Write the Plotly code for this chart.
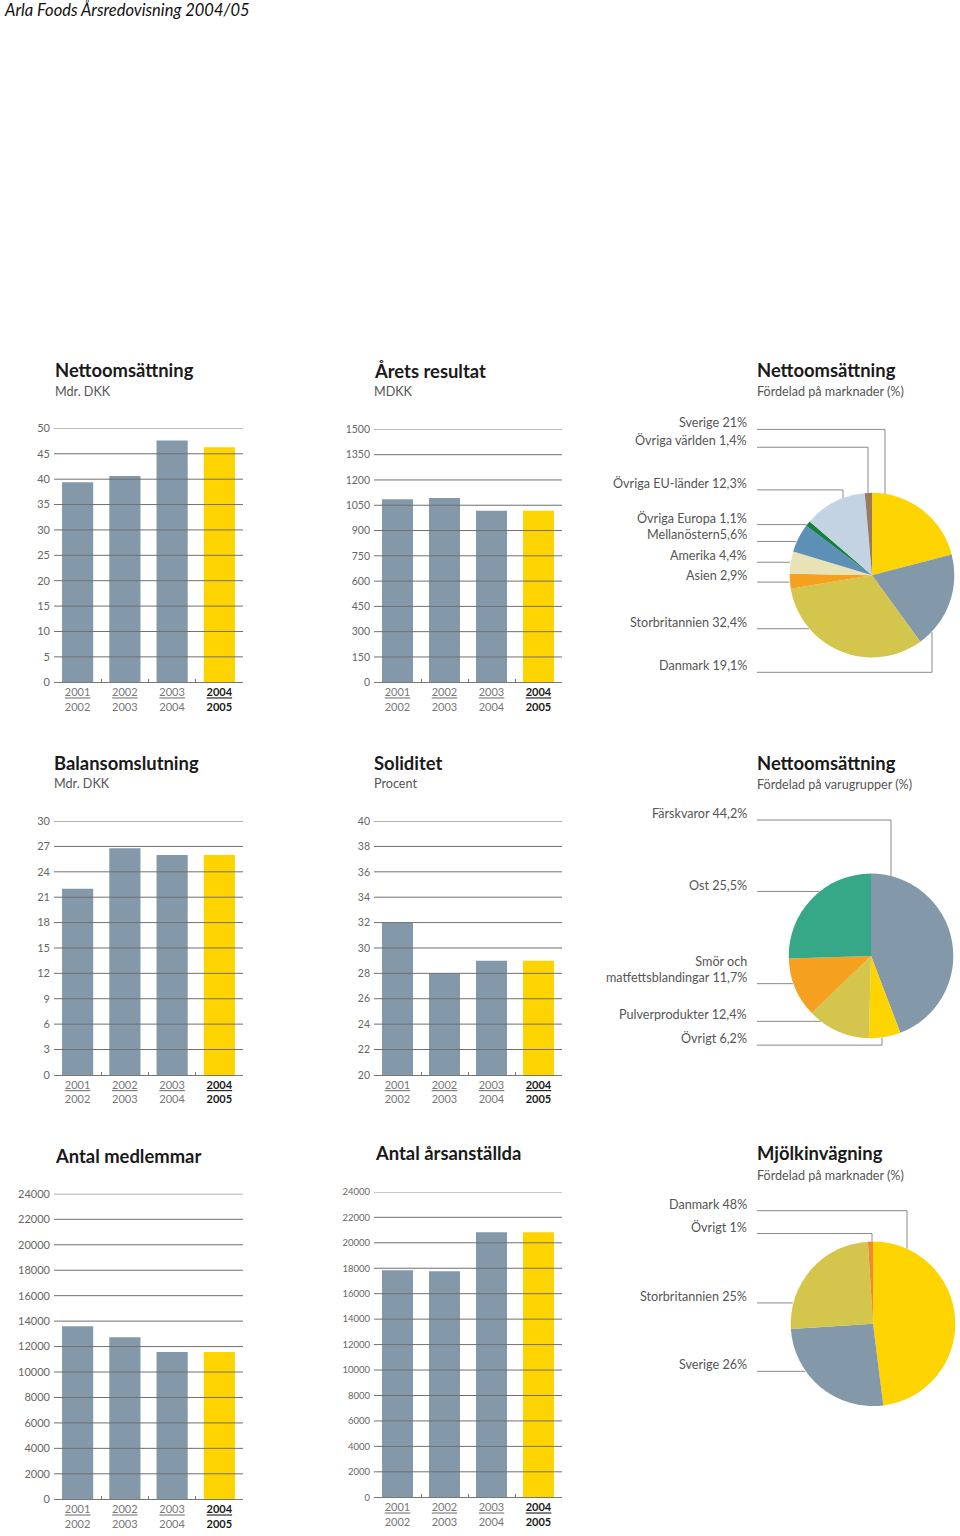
import math
import plotly.graph_objects as go

W, H = 960, 1536
FONT = "Lato"

# ---------------- data ----------------
years = ["2001/2002", "2002/2003", "2003/2004", "2004/2005"]
year_ticktext = [
    "<u>2001</u><br>2002",
    "<u>2002</u><br>2003",
    "<u>2003</u><br>2004",
    "<span style='color:#1a1a1a'><b><u>2004</u><br>2005</b></span>",
]

nettoomsattning = [39.4, 40.6, 47.6, 46.3]          # Mdr. DKK
arets_resultat = [1085, 1093, 1017, 1017]           # MDKK
balansomslutning = [22.0, 26.8, 26.0, 26.0]         # Mdr. DKK
soliditet = [32.0, 28.0, 29.0, 29.0]                # Procent
antal_medlemmar = [13600, 12740, 11570, 11570]
antal_arsanstallda = [17840, 17760, 20830, 20830]

ticks_netto = [0, 5, 10, 15, 20, 25, 30, 35, 40, 45, 50]
ticks_resultat = [0, 150, 300, 450, 600, 750, 900, 1050, 1200, 1350, 1500]
ticks_balans = [0, 3, 6, 9, 12, 15, 18, 21, 24, 27, 30]
ticks_soliditet = [20, 22, 24, 26, 28, 30, 32, 34, 36, 38, 40]
ticks_antal = [0, 2000, 4000, 6000, 8000, 10000, 12000, 14000, 16000, 18000, 20000, 22000, 24000]

market_labels = ["Sverige 21%", "Danmark 19,1%", "Storbritannien 32,4%", "Asien 2,9%",
                 "Amerika 4,4%", "Mellanöstern5,6%", "Övriga Europa 1,1%",
                 "Övriga EU-länder 12,3%", "Övriga världen 1,4%"]
market_values = [21.0, 19.1, 32.4, 2.9, 4.4, 5.6, 1.1, 12.3, 1.4]

product_labels = ["Färskvaror 44,2%", "Övrigt 6,2%", "Pulverprodukter 12,4%",
                  "Smör och<br>matfettsblandingar 11,7%", "Ost 25,5%"]
product_values = [44.2, 6.2, 12.4, 11.7, 25.5]

milk_labels = ["Danmark 48%", "Sverige 26%", "Storbritannien 25%", "Övrigt 1%"]
milk_values = [48, 26, 25, 1]

# ---------------- styles ----------------
GRAY_BAR = "#8399a9"
YELLOW = "#fdd400"
bar_colors = [GRAY_BAR, GRAY_BAR, GRAY_BAR, YELLOW]
market_colors = ["#fdd400", "#8399a9", "#d4c64c", "#f5a01e", "#e9e2b6",
                 "#5d90b6", "#16803f", "#c4d3e3", "#9a7a5e"]
product_colors = ["#8399a9", "#fdd400", "#d4c64c", "#f5a01e", "#36a887"]
milk_colors = ["#fdd400", "#8399a9", "#d4c64c", "#ef8a35"]
GRID = "#707070"
LEADER = "#8a8a8a"
LABEL_SIZE = 12.6
TEXT_SHIFT = 3  # px upward correction for text annotations


def fx(px):
    return px / W


def fy(py):
    return 1 - py / H


fig = go.Figure()
layout = dict(
    width=W, height=H, margin=dict(l=0, r=0, t=0, b=0, pad=0),
    paper_bgcolor="white", plot_bgcolor="white", showlegend=False,
    font=dict(family=FONT, color="#555"),
)
shapes = []
annotations = []

# bar panels: (values, ticks, x0, x1, ytop, ybottom, tickfont size)
bar_panels = [
    (nettoomsattning, ticks_netto, 54, 243, 425, 681, 11),
    (arets_resultat, ticks_resultat, 374, 562, 426, 681, 10.5),
    (balansomslutning, ticks_balans, 54, 243, 821, 1077, 11),
    (soliditet, ticks_soliditet, 374, 562, 821, 1077, 10.5),
    (antal_medlemmar, ticks_antal, 54, 243, 1197, 1505, 11),
    (antal_arsanstallda, ticks_antal, 374, 562, 1195, 1503, 9.5),
]

for i, (vals, ticks, x0, x1, yt, yb, tfs) in enumerate(bar_panels, start=1):
    xa = "x" if i == 1 else f"x{i}"
    ya = "y" if i == 1 else f"y{i}"
    fig.add_trace(go.Bar(x=years, y=vals, marker=dict(color=bar_colors, line=dict(width=0)),
                         width=0.66, xaxis=xa, yaxis=ya, hoverinfo="x+y"))
    layout["xaxis" if i == 1 else f"xaxis{i}"] = dict(
        domain=[fx(x0), fx(x1)], anchor=ya, type="category",
        range=[-0.5, 3.5], tickvals=years, ticktext=year_ticktext,
        tickson="boundaries", ticks="inside", ticklen=3, tickcolor="#777",
        showline=True, linecolor="#777", linewidth=1, showgrid=False,
        tickfont=dict(family=FONT, size=11, color="#777"), fixedrange=True,
    )
    layout["yaxis" if i == 1 else f"yaxis{i}"] = dict(
        domain=[fy(yb), fy(yt)], anchor=xa, range=[ticks[0], ticks[-1]],
        tickvals=ticks, ticktext=[str(t) for t in ticks], showgrid=False,
        zeroline=False, showline=False, ticks="", ticklabelstandoff=3,
        tickfont=dict(family=FONT, size=tfs, color="#666"), fixedrange=True,
    )
    for t in ticks[1:]:
        shapes.append(dict(type="line", xref=f"{xa} domain", yref=ya,
                           x0=0, x1=1, y0=t, y1=t, layer="above",
                           line=dict(color=GRID, width=1)))

# pies: (labels, values, colors, cx, cy, r, leader specs)
# leader spec: (line_y, elbow_x or None, n_text_lines)
pie_panels = [
    (market_labels, market_values, market_colors, 872, 573, 83,
     [(426, 885, 1), (671, 932, 1), (627, None, 1), (580, None, 1), (560, None, 1),
      (539, None, 1), (522, None, 1), (487, 843, 1), (444, 868, 1)]),
    (product_labels, product_values, product_colors, 871, 957, 83,
     [(820, 891, 1), (1047, 882, 1), (1023, None, 1), (985, None, 2), (892, None, 1)]),
    (milk_labels, milk_values, milk_colors, 873, 1328, 83,
     [(1214, 907, 1), (1376, None, 1), (1307, None, 1), (1237, 872, 1)]),
]

LINE_START = 757
for labels, vals, cols, cx, cy, r, leaders in pie_panels:
    fig.add_trace(go.Pie(labels=[l.replace("<br>", " ") for l in labels], values=vals,
                         marker=dict(colors=cols, line=dict(width=0)),
                         sort=False, direction="clockwise", rotation=0,
                         textinfo="none", hoverinfo="label",
                         domain=dict(x=[fx(cx - r), fx(cx + r)], y=[fy(cy + r), fy(cy - r)])))
    for lab, (ly, ex, nl) in zip(labels, leaders):
        if ex is None:
            endx = cx - math.sqrt(max(r * r - (ly - cy) ** 2, 0))
            path = f"M {fx(LINE_START)} {fy(ly)} L {fx(endx)} {fy(ly)}"
        else:
            dy = math.sqrt(max(r * r - (ex - cx) ** 2, 0))
            endy = cy - dy if ly < cy else cy + dy
            path = (f"M {fx(LINE_START)} {fy(ly)} L {fx(ex)} {fy(ly)} "
                    f"L {fx(ex)} {fy(endy)}")
        shapes.append(dict(type="path", xref="paper", yref="paper", path=path,
                           line=dict(color=LEADER, width=1)))
        annotations.append(dict(
            text=lab, xref="paper", yref="paper", x=fx(749),
            y=fy(ly - 3.5 - TEXT_SHIFT - (nl - 1) * 8),
            xanchor="right", yanchor="middle", align="right", showarrow=False,
            font=dict(family=FONT, size=LABEL_SIZE, color="#555")))

# titles
titles = [
    ("Nettoomsättning", "Mdr. DKK", 54, 369, 391),
    ("Årets resultat", "MDKK", 373, 370, 391),
    ("Nettoomsättning", "Fördelad på marknader (%)", 756, 369, 391),
    ("Balansomslutning", "Mdr. DKK", 53, 765, 786),
    ("Soliditet", "Procent", 373, 765, 786),
    ("Nettoomsättning", "Fördelad på varugrupper (%)", 756, 765, 787),
    ("Antal medlemmar", None, 54, 1162, None),
    ("Antal årsanställda", None, 374, 1159, None),
    ("Mjölkinvägning", "Fördelad på marknader (%)", 756, 1159, 1181),
]
for t, s, x, ty, sy in titles:
    annotations.append(dict(text=f"<b>{t}</b>", xref="paper", yref="paper",
                            x=fx(x - 1), y=fy(ty - TEXT_SHIFT), xanchor="left", yanchor="middle",
                            showarrow=False, font=dict(family=FONT, size=18.4, color="#1a1a1a")))
    if s:
        annotations.append(dict(text=s, xref="paper", yref="paper",
                                x=fx(x - 1), y=fy(sy - TEXT_SHIFT), xanchor="left", yanchor="middle",
                                showarrow=False, font=dict(family=FONT, size=LABEL_SIZE, color="#555")))

annotations.append(dict(text="<i>Arla Foods Årsredovisning 2004/05</i>", xref="paper", yref="paper",
                        x=fx(2), y=fy(3), xanchor="left", yanchor="middle", showarrow=False,
                        font=dict(family=FONT, size=16.5, color="#111")))

layout["shapes"] = shapes
layout["annotations"] = annotations
fig.update_layout(**layout)
fig.write_html(
    "out.html",
    config={"displayModeBar": False},
    post_script="document.body.style.margin='0';document.body.style.overflow='hidden';",
)
